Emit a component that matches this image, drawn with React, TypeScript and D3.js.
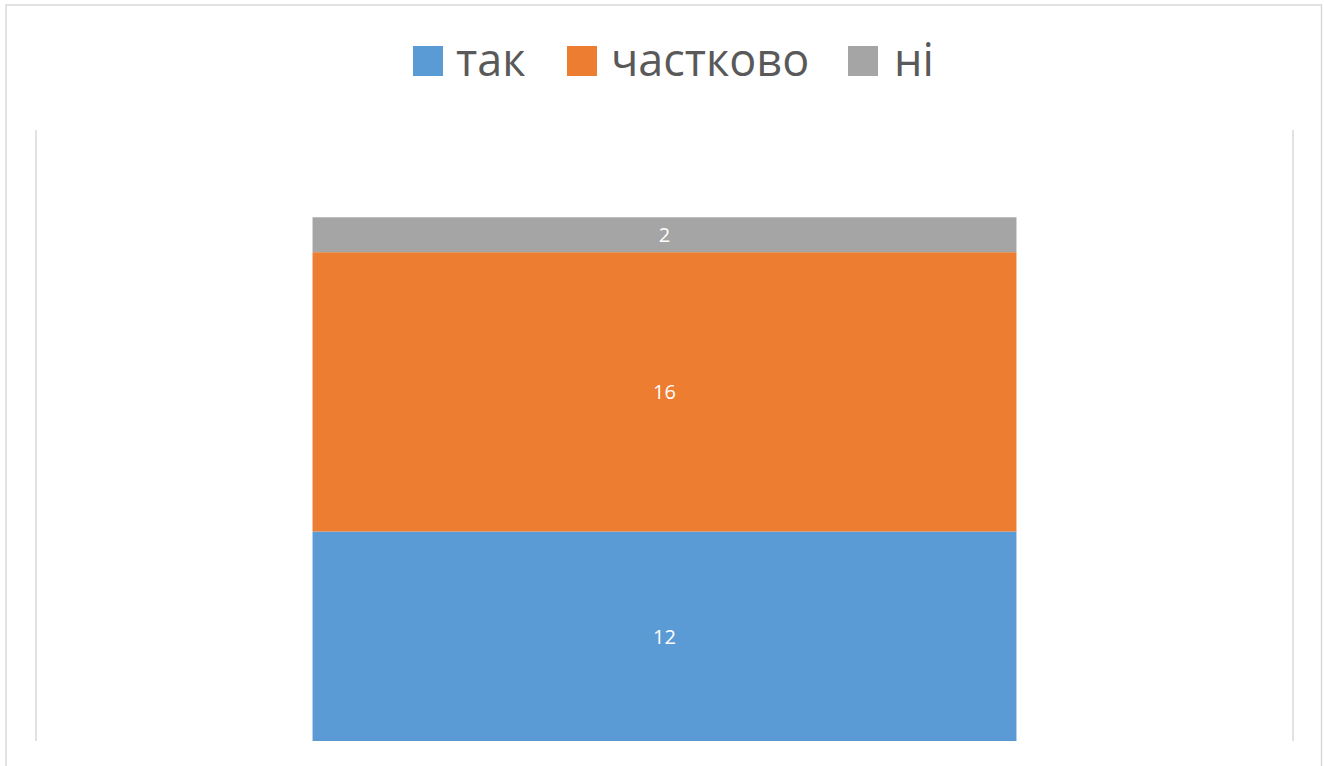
import React from "react";
import * as d3 from "d3";

const categories = ["1"];
const seriesNames = ["так", "частково", "ні"];
const seriesValues = [[12], [16], [2]];
const seriesColors = ["#5B9BD5", "#ED7D31", "#A5A5A5"];
const yMax = 35;

const W = 1324;
const H = 766;
const plot = { left: 36, right: 1293, top: 130, bottom: 741 };

export default function App() {
  const x = d3
    .scaleBand<string>()
    .domain(categories)
    .range([plot.left, plot.right])
    .paddingInner(0.44)
    .paddingOuter(0.22);
  const y = d3.scaleLinear().domain([0, yMax]).range([plot.bottom, plot.top]);

  const rows = categories.map((c, i) => {
    const r: Record<string, number | string> = { cat: c };
    seriesNames.forEach((s, j) => (r[s] = seriesValues[j][i]));
    return r;
  });
  const stack = d3.stack<Record<string, number | string>>().keys(seriesNames)(rows as any);

  const legendItems = [
    { name: seriesNames[0], sx: 413, tx: 456 },
    { name: seriesNames[1], sx: 567, tx: 611 },
    { name: seriesNames[2], sx: 848, tx: 894 },
  ];

  return (
    <svg
      width={W}
      height={H}
      style={{ position: "absolute", left: 0, top: 0, background: "#fff" }}
      fontFamily="'Open Sans', 'Noto Sans', sans-serif"
    >
      <rect x={6} y={5} width={1315.5} height={800} fill="#fff" stroke="#d9d9d9" strokeWidth={1.5} />
      <line x1={plot.left} x2={plot.left} y1={plot.top} y2={plot.bottom} stroke="#d9d9d9" strokeWidth={1.5} />
      <line x1={plot.right} x2={plot.right} y1={plot.top} y2={plot.bottom} stroke="#d9d9d9" strokeWidth={1.5} />
      {stack.map((layer, j) =>
        layer.map((d, i) => {
          const cat = categories[i];
          const x0 = x(cat)!;
          const y0 = y(d[1]);
          const y1 = y(d[0]);
          return (
            <g key={`${j}-${i}`}>
              <rect x={x0} y={y0} width={x.bandwidth()} height={y1 - y0} fill={seriesColors[j]} />
              <text
                x={x0 + x.bandwidth() / 2}
                y={(y0 + y1) / 2}
                textAnchor="middle"
                dominantBaseline="central"
                fill="#fff"
                fontSize={20}
              >
                {seriesValues[j][i]}
              </text>
            </g>
          );
        })
      )}
      {legendItems.map((it, j) => (
        <g key={it.name}>
          <rect x={it.sx} y={46} width={30} height={30} fill={seriesColors[j]} />
          <text x={it.tx} y={76} fontSize={45} fill="#595959">
            {it.name}
          </text>
        </g>
      ))}
    </svg>
  );
}
